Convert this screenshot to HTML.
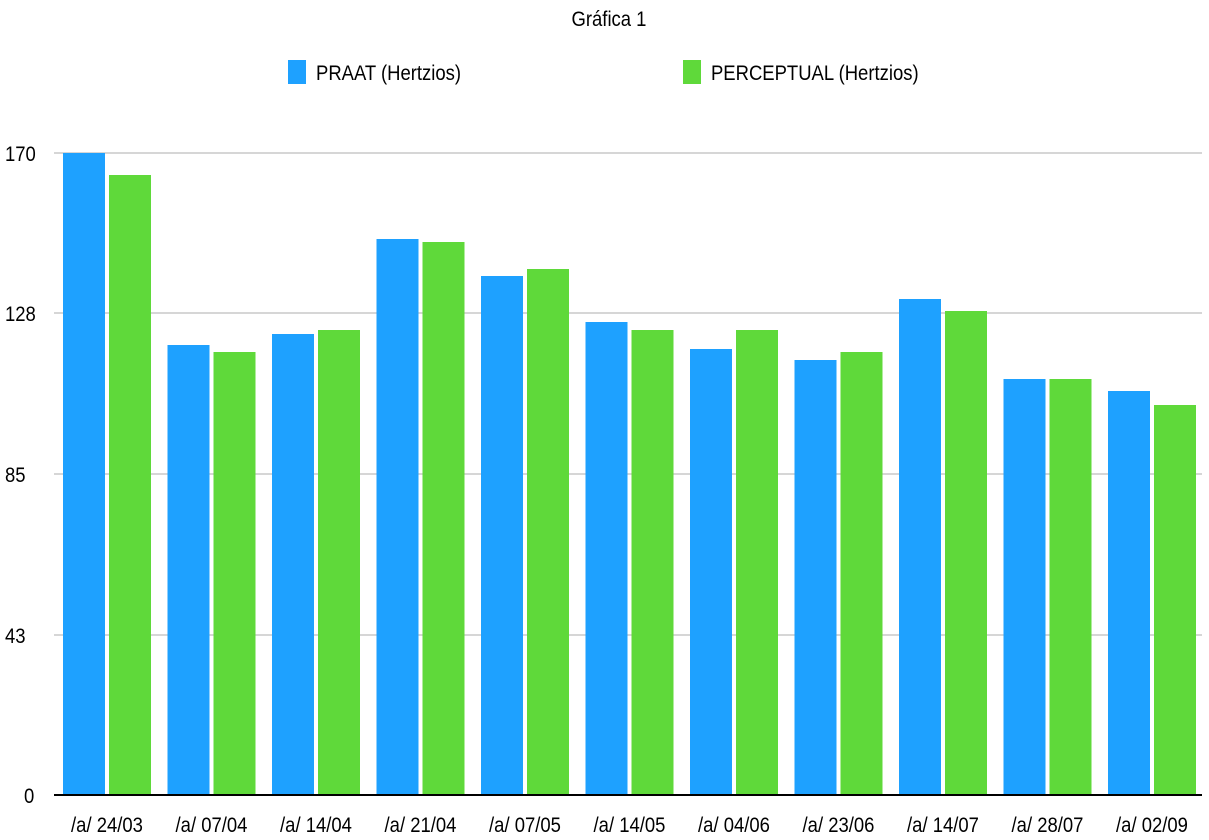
<!DOCTYPE html>
<html><head><meta charset="utf-8"><style>body{margin:0;background:#fff}svg{display:block}text{font-family:"Liberation Sans",sans-serif;fill:#000}</style></head><body>
<svg width="1209" height="840" viewBox="0 0 1209 840">
<text x="609" y="26" font-size="21" text-anchor="middle" transform="translate(609,0) scale(0.88,1) translate(-609,0)">Gráfica 1</text>
<rect x="288" y="60" width="18" height="24" fill="#1ea1ff"/>
<text x="316" y="80" font-size="21" transform="translate(316,0) scale(0.88,1) translate(-316,0)">PRAAT (Hertzios)</text>
<rect x="683" y="60" width="18" height="24" fill="#5fd93a"/>
<text x="711" y="80" font-size="21" transform="translate(711,0) scale(0.88,1) translate(-711,0)">PERCEPTUAL (Hertzios)</text>
<g stroke="#c8c8c8" stroke-width="1.5">
<line x1="54" y1="153" x2="1202" y2="153"/><line x1="54" y1="313" x2="1202" y2="313"/><line x1="54" y1="474" x2="1202" y2="474"/><line x1="54" y1="635" x2="1202" y2="635"/>
</g>
<g font-size="21" text-anchor="start">
<text x="5" y="161" transform="translate(5,0) scale(0.88,1) translate(-5,0)">170</text>
<text x="5" y="321" transform="translate(5,0) scale(0.88,1) translate(-5,0)">128</text>
<text x="5" y="482" transform="translate(5,0) scale(0.88,1) translate(-5,0)">85</text>
<text x="5" y="643" transform="translate(5,0) scale(0.88,1) translate(-5,0)">43</text>
<text x="24" y="803" transform="translate(24,0) scale(0.88,1) translate(-24,0)">0</text>
</g>
<g id="bars"></g>
<line x1="54" y1="795" x2="1202" y2="795" stroke="#000" stroke-width="2"/>
<g id="labels" font-size="21" text-anchor="middle"></g>
</svg>
<script>
var b=[[153,175],[345,352],[334,330],[239,242],[276,269],[322,330],[349,330],[360,352],[299,311],[379,379],[391,405]];
var L=["24/03","07/04","14/04","21/04","07/05","14/05","04/06","23/06","14/07","28/07","02/09"];
var g=document.getElementById('bars'),l=document.getElementById('labels'),ns="http://www.w3.org/2000/svg";
b.forEach(function(v,i){var x=63+i*104.5;
[[x,v[0],'#1ea1ff'],[x+46,v[1],'#5fd93a']].forEach(function(r){var e=document.createElementNS(ns,'rect');e.setAttribute('x',r[0]);e.setAttribute('y',r[1]);e.setAttribute('width',42);e.setAttribute('height',795-r[1]);e.setAttribute('fill',r[2]);g.appendChild(e);});
var t=document.createElementNS(ns,'text');var cx=x+44;t.setAttribute('x',cx);t.setAttribute('y',832);t.setAttribute('transform','translate('+cx+',0) scale(0.88,1) translate('+(-cx)+',0)');t.textContent='/a/ '+L[i];l.appendChild(t);});
</script>
</body></html>
